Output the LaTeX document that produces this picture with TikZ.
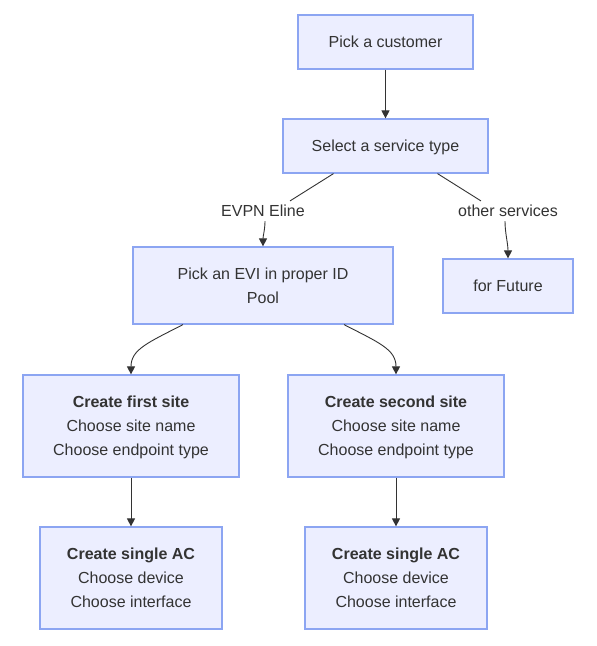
\documentclass[tikz,border=0pt]{standalone}
\usepackage{fontspec}
\setmainfont{Liberation Sans}
\usetikzlibrary{arrows.meta}
\definecolor{boxfill}{RGB}{236,238,255}
\definecolor{boxline}{RGB}{140,165,242}
\definecolor{ink}{RGB}{51,51,51}

\begin{document}
\begin{tikzpicture}[x=1pt,y=-1pt,
        box/.style={draw=boxline,fill=boxfill,line width=1.2pt,align=center,text=ink,inner sep=0pt,text depth=0pt,font=\fontsize{16}{24}\selectfont},
        lbl/.style={fill=white,text=ink,inner sep=4pt,font=\fontsize{16}{24}\selectfont},
        arr/.style={draw=ink,line width=0.9pt,-{Triangle[length=8pt,width=8pt]}},
        link/.style={draw=ink,line width=0.9pt}]
        \useasboundingbox (0,0) rectangle (597,646);
        % Top of the flow
            \node[box,minimum width=175pt,minimum height=54pt] (customer) at (385.5,42) {Pick a customer};
            \node[box,minimum width=205pt,minimum height=54pt] (service) at (385.5,146) {Select a service type};
        % Service branches
            \node[box,minimum width=260pt,minimum height=77pt] (evi) at (263,285.5) {Pick an EVI in proper ID\\Pool};
            \node[box,minimum width=130pt,minimum height=54pt] (future) at (508,286) {for Future};
        % Sites
            \node[box,minimum width=216pt,minimum height=102pt] (site1) at (131,426) {\textbf{Create first site}\\Choose site name\\Choose endpoint type};
            \node[box,minimum width=216pt,minimum height=102pt] (site2) at (396,426) {\textbf{Create second site}\\Choose site name\\Choose endpoint type};
        % Attachment circuits
            \node[box,minimum width=182pt,minimum height=102pt] (ac1) at (131,578) {\textbf{Create single AC}\\Choose device\\Choose interface};
            \node[box,minimum width=182pt,minimum height=102pt] (ac2) at (396,578) {\textbf{Create single AC}\\Choose device\\Choose interface};
        % Edge labels
            \node[lbl] (eline) at (263,211) {EVPN Eline};
            \node[lbl] (other) at (508,211) {other services};
        % Connectors
            \draw[arr] (customer) -- (service);
            \draw[link] ([xshift=-52pt]service.south) -- ([xshift=27pt]eline.north);
            \draw[arr] ([xshift=2pt]eline.south) .. controls +(0,8) and +(0,-10) .. (evi.north);
            \draw[link] ([xshift=52pt]service.south) -- ([xshift=-27pt]other.north);
            \draw[arr] ([xshift=-3pt]other.south) .. controls +(0,12) and +(0,-15) .. (future.north);
            \draw[arr] ([xshift=-80pt]evi.south) .. controls +(-35,18) and +(0,-25) .. (site1.north);
            \draw[arr] ([xshift=81pt]evi.south) .. controls +(35,18) and +(0,-25) .. (site2.north);
            \draw[arr] (site1) -- (ac1);
            \draw[arr] (site2) -- (ac2);
    \end{tikzpicture}
\end{document}
